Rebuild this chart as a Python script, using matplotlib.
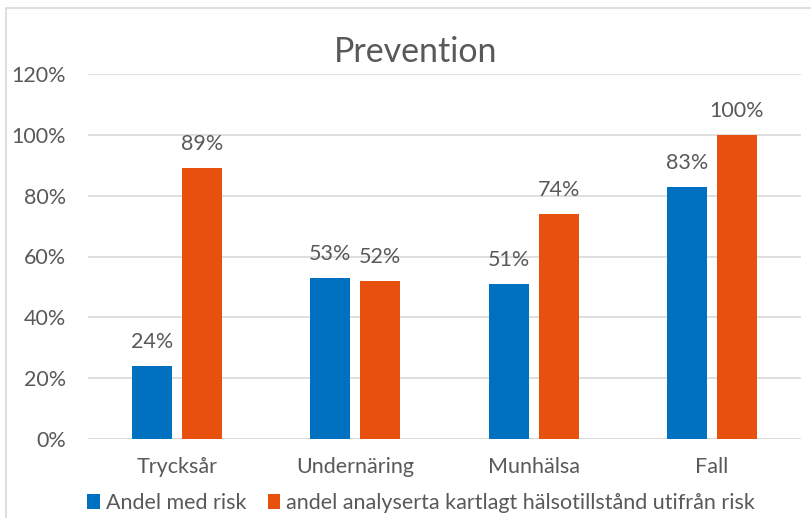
import matplotlib
matplotlib.use("Agg")
import matplotlib.pyplot as plt
import numpy as np
from matplotlib.patches import Rectangle

categories = ["Trycksår", "Undernäring", "Munhälsa", "Fall"]
series_names = ["Andel med risk", "andel analyserta kartlagt hälsotillstånd utifrån risk"]
andel_med_risk = [0.24, 0.53, 0.51, 0.83]
andel_analyserta = [0.89, 0.52, 0.74, 1.00]
y_ticks = [0, 0.2, 0.4, 0.6, 0.8, 1.0, 1.2]
y_tick_labels = ["0%", "20%", "40%", "60%", "80%", "100%", "120%"]

blue = "#0070C0"
orange = "#E8500E"
txt = "#595959"
grid = "#D9D9D9"

plt.rcParams['font.family'] = ['Lato', 'DejaVu Sans']

fig = plt.figure(figsize=(8.11, 5.18), dpi=100)
ax = fig.add_axes([88/811, 1-439/518, (801-88)/811, (439-74)/518])

x = np.arange(len(categories))
w = 0.225
off = 0.14
b1 = ax.bar(x - off, andel_med_risk, w, color=blue, label=series_names[0], zorder=3)
b2 = ax.bar(x + off, andel_analyserta, w, color=orange, label=series_names[1], zorder=3)

for bars, vals in ((b1, andel_med_risk), (b2, andel_analyserta)):
    for b, v in zip(bars, vals):
        ax.annotate(f"{round(v*100)}%", (b.get_x() + b.get_width()/2, v),
                    xytext=(0, 10), textcoords="offset points", ha="center", va="bottom",
                    fontsize=15.5, color=txt)

ax.set_xlim(-0.5, len(categories) - 0.5)
ax.set_ylim(0, 1.2)
ax.set_yticks(y_ticks)
ax.set_yticklabels(y_tick_labels)
ax.set_xticks(x)
ax.set_xticklabels(categories)
ax.tick_params(axis='both', length=0, labelsize=15.5, colors=txt)
ax.tick_params(axis='y', pad=16)
ax.tick_params(axis='x', pad=13)
ax.yaxis.grid(True, color=grid, linewidth=1.2, zorder=0)
for s in ax.spines.values():
    s.set_visible(False)
ax.axhline(0, color=grid, linewidth=1.2, zorder=2)

fig.text(416/811, 1-52/518, "Prevention", ha="center", va="center", fontsize=24.5, color=txt)

leg = fig.legend(handles=[b1, b2], labels=series_names, loc="center", bbox_to_anchor=(421/811, 1-503/518),
                 ncol=2, frameon=False, fontsize=15.5, handlelength=0.6, handleheight=0.65,
                 handletextpad=0.25, columnspacing=1.0, labelcolor=txt)

fig.patches.append(Rectangle((6/811, -0.1), 1.2, (1-8/518)+0.1, transform=fig.transFigure,
                             fill=False, edgecolor=grid, linewidth=1.2))

fig.savefig("out.png", dpi=100, facecolor="white")
